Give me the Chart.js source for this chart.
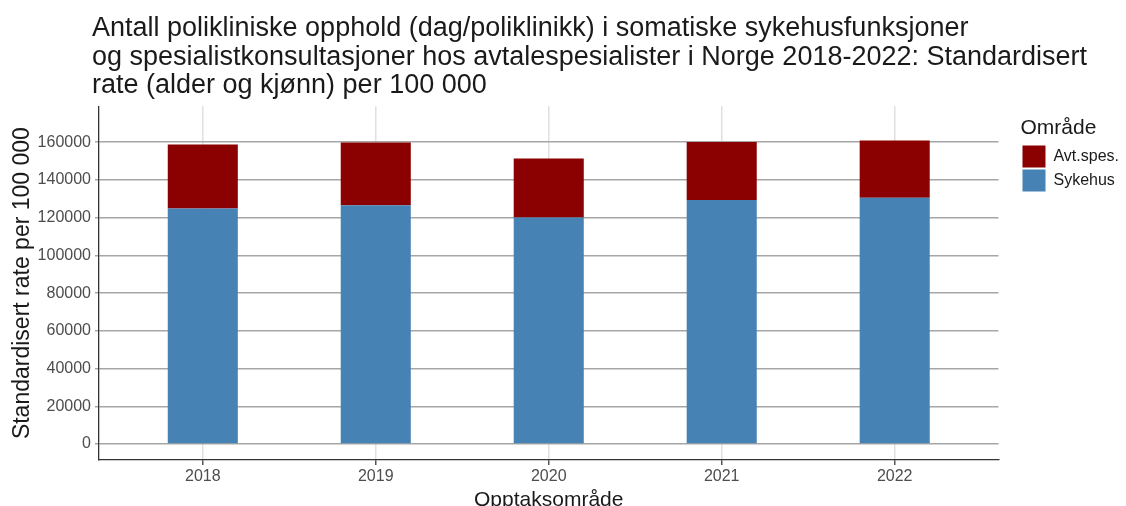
<!DOCTYPE html>
<html>
<head>
<meta charset="utf-8">
<script src="https://cdn.jsdelivr.net/npm/chart.js@4"></script>
<style>
  html, body { margin: 0; padding: 0; background: #fff; overflow: hidden; }
  #wrap { width: 1126px; height: 506px; }
</style>
</head>
<body>
<div id="wrap"><canvas id="chart" width="1126" height="506"></canvas></div>
<script>
// data
var years = [2018, 2019, 2020, 2021, 2022]
var sykehus = [124900, 126600, 120100, 129300, 130500]
var avtSpes = [33900, 33200, 31300, 30800, 30400]
var yTicks = [0, 20000, 40000, 60000, 80000, 100000, 120000, 140000, 160000]

var fontFamily = '"Liberation Sans", Arial, sans-serif'
var greyText = '#4d4d4d'

function points(values) {
    return years.map(function (yr, i) { return { x: yr, y: values[i] } })
}

// nudge the title a bit left of the plot, like the original
var titleShift = {
    id: 'titleShift',
    afterLayout: function (chart) {
        var t = chart.titleBlock
        if (t) { t.left = 92; t.right = 1120 }
    }
}

var ctx = document.getElementById('chart').getContext('2d')
new Chart(ctx, {
    type: 'bar',
    data: {
        datasets: [
            { label: 'Sykehus', data: points(sykehus), backgroundColor: '#4682b4' },
            { label: 'Avt.spes.', data: points(avtSpes), backgroundColor: '#8b0000' }
        ]
    },
    plugins: [titleShift],
    options: {
        responsive: false,
        animation: false,
        categoryPercentage: 1,
        barPercentage: 0.405,
        layout: { padding: { right: -3 } },
        plugins: {
            tooltip: { enabled: false },
            title: {
                display: true,
                fullSize: false,
                align: 'start',
                text: [
                    'Antall polikliniske opphold (dag/poliklinikk) i somatiske sykehusfunksjoner',
                    'og spesialistkonsultasjoner hos avtalespesialister i Norge 2018-2022: Standardisert',
                    'rate (alder og kjønn) per 100 000'
                ],
                color: '#1a1a1a',
                font: { family: fontFamily, size: 27, weight: 'normal', lineHeight: 1.04 },
                padding: { top: 15, bottom: 7 }
            },
            legend: {
                position: 'right',
                align: 'start',
                fullSize: false,
                reverse: true,
                title: {
                    display: true,
                    position: 'start',
                    text: 'Område',
                    color: '#1a1a1a',
                    font: { family: fontFamily, size: 21 },
                    padding: { top: 11, bottom: 1 }
                },
                labels: {
                    boxWidth: 23,
                    boxHeight: 22,
                    padding: 2,
                    color: '#1a1a1a',
                    font: { family: fontFamily, size: 16 }
                }
            }
        },
        scales: {
            x: {
                type: 'linear',
                stacked: true,
                offset: false,
                min: 2017.4,
                max: 2022.6,
                afterBuildTicks: function (scale) {
                    scale.ticks = years.map(function (v) { return { value: v } })
                },
                afterFit: function (scale) { scale.height = 46 },
                ticks: {
                    color: greyText,
                    font: { family: fontFamily, size: 16 },
                    padding: 2,
                    callback: function (v) { return String(v) }
                },
                grid: { offset: false, color: '#e0e0e0', lineWidth: 1.5, tickLength: 5, tickColor: '#555' },
                border: { display: true, color: '#333', width: 1.3 },
                title: {
                    display: true,
                    text: 'Opptaksområde',
                    color: '#1a1a1a',
                    font: { family: fontFamily, size: 21, lineHeight: 0.57 },
                    padding: 0
                }
            },
            y: {
                stacked: true,
                min: -8477,
                max: 179073,
                afterBuildTicks: function (scale) {
                    scale.ticks = yTicks.map(function (v) { return { value: v } })
                },
                afterFit: function (scale) { scale.width = 99 },
                ticks: {
                    color: greyText,
                    font: { family: fontFamily, size: 16 },
                    padding: 4,
                    callback: function (v) { return String(v) }
                },
                grid: { color: '#a6a6a6', lineWidth: 1.5, tickLength: 4, tickColor: '#a6a6a6' },
                border: { display: true, color: '#333', width: 1.3 },
                title: {
                    display: true,
                    text: 'Standardisert rate per 100 000',
                    color: '#1a1a1a',
                    font: { family: fontFamily, size: 23, lineHeight: 1.2 },
                    padding: { top: 9, bottom: 0 }
                }
            },
            // empty gap between the plot and the legend
            gap: {
                position: 'right',
                display: true,
                grid: { display: false },
                border: { display: false },
                ticks: { display: false },
                afterFit: function (scale) { scale.width = 22 }
            }
        }
    }
})
</script>
</body>
</html>
